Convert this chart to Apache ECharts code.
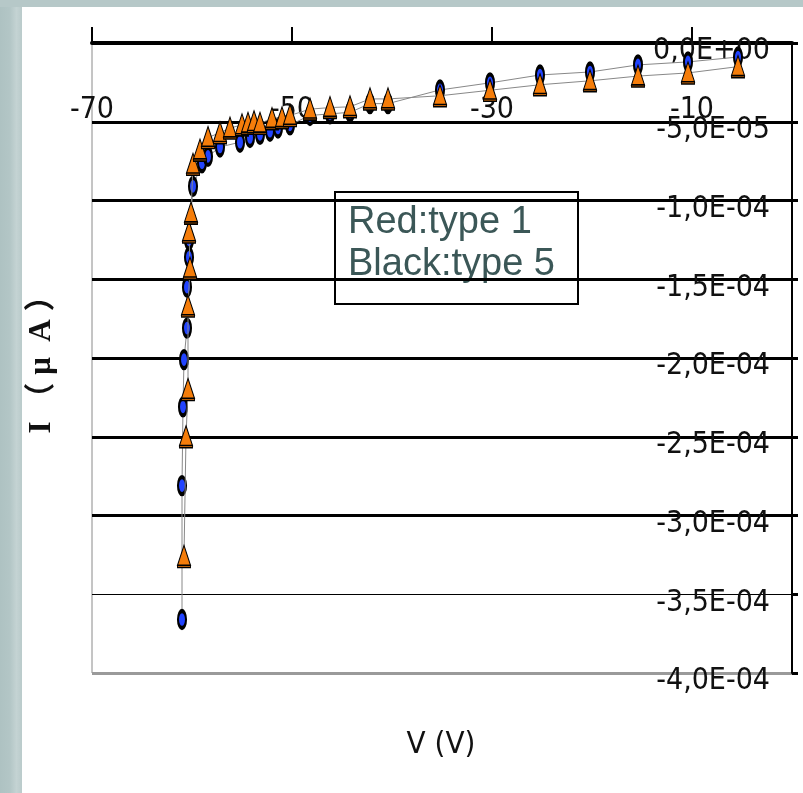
<!DOCTYPE html>
<html>
<head>
<meta charset="utf-8">
<script src="https://cdn.jsdelivr.net/npm/echarts@6/dist/echarts.min.js"></script>
<style>
  html, body { margin: 0; padding: 0; background: #fff; }
  #chart { width: 803px; height: 793px; }
</style>
</head>
<body>
<div id="chart"></div>
<script>
// 横轴刻度
var xTicks = [-70, -50, -30, -10];

// type 1 (橙色三角)
var type1V = [-60.8, -60.6, -60.4, -60.4, -60.2, -60.3, -60.1, -59.9, -59.2, -58.4, -57.2, -56.2, -55.0, -54.4, -53.8, -53.2, -52.0, -51.0, -50.2, -48.2, -46.2, -44.2, -42.2, -40.4, -35.2, -30.2, -25.2, -20.2, -15.4, -10.4, -5.4];
var type1I = [-3.26e-4, -2.50e-4, -2.20e-4, -1.67e-4, -1.43e-4, -1.20e-4, -1.08e-4, -7.7e-5, -6.8e-5, -6.0e-5, -5.7e-5, -5.4e-5, -5.2e-5, -5.1e-5, -5.0e-5, -5.1e-5, -4.8e-5, -4.75e-5, -4.6e-5, -4.2e-5, -4.1e-5, -4.05e-5, -3.55e-5, -3.55e-5, -3.35e-5, -3.0e-5, -2.65e-5, -2.4e-5, -2.1e-5, -1.9e-5, -1.5e-5];

// type 5 (蓝色圆点)
var type5V = [-61.0, -61.0, -60.9, -60.8, -60.5, -60.5, -60.3, -60.3, -59.9, -59.0, -58.4, -57.2, -55.2, -54.2, -53.2, -52.2, -51.4, -50.2, -48.2, -46.2, -44.2, -42.2, -40.4, -35.2, -30.2, -25.2, -20.2, -15.4, -10.4, -5.4];
var type5I = [-3.66e-4, -2.81e-4, -2.31e-4, -2.01e-4, -1.81e-4, -1.55e-4, -1.36e-4, -1.25e-4, -9.1e-5, -7.6e-5, -7.2e-5, -6.6e-5, -6.3e-5, -6.0e-5, -5.8e-5, -5.6e-5, -5.4e-5, -5.2e-5, -4.6e-5, -4.5e-5, -4.4e-5, -3.85e-5, -3.85e-5, -2.98e-5, -2.53e-5, -2.03e-5, -1.84e-5, -1.39e-5, -1.2e-5, -0.89e-5];

var narrow = "'Liberation Sans Narrow', 'DejaVu Sans Condensed', sans-serif";

function pairs(xs, ys) {
  return xs.map(function (x, i) { return [x, ys[i]]; });
}

// 0,0E+00 这种格式
function sciLabel(v) {
  if (Math.abs(v) < 1e-12) return '0,0E+00';
  var p = v.toExponential(1).split('e');
  var e = parseInt(p[1], 10);
  return p[0].replace('.', ',') + 'E' + (e < 0 ? '-' : '+') + String(Math.abs(e)).padStart(2, '0');
}

var chart = echarts.init(document.getElementById('chart'));

var option = {
  animation: false,
  backgroundColor: '#fff',
  grid: {
    left: 92, right: 11, top: 43, bottom: 120,
    show: true, borderColor: '#8a8a8a', borderWidth: 1
  },
  xAxis: {
    type: 'value',
    position: 'top',
    min: -70,
    max: 0,
    axisLine: { show: true, onZero: false, lineStyle: { color: '#000', width: 4 } },
    axisTick: { show: true, customValues: xTicks, length: 16, lineStyle: { color: '#000', width: 2 } },
    axisLabel: {
      customValues: xTicks, inside: true, margin: 52,
      fontFamily: narrow, fontSize: 30, color: '#111'
    },
    splitLine: { show: false }
  },
  yAxis: [
    {
      type: 'value',
      position: 'right',
      min: -4e-4,
      max: 0,
      interval: 5e-5,
      axisLine: { show: true, onZero: false, lineStyle: { color: '#000', width: 2 } },
      axisTick: { show: true, length: 6, lineStyle: { color: '#000', width: 3 } },
      axisLabel: {
        inside: true, margin: 22, formatter: sciLabel,
        fontFamily: narrow, fontSize: 30, color: '#111',
        verticalAlign: 'top', lineHeight: 17
      },
      splitLine: {
        show: true,
        lineStyle: {
          color: ['#9a9a9a', 'transparent', '#000', '#000', '#000', '#000', '#000', '#000', '#000'],
          width: 3
        }
      }
    },
    {
      // 只画 -3,5E-04 那条细线
      type: 'value',
      position: 'left',
      min: -4e-4,
      max: 0,
      interval: 5e-5,
      axisLine: { show: false },
      axisTick: { show: false },
      axisLabel: { show: false },
      splitLine: {
        show: true,
        lineStyle: {
          color: ['transparent', '#000', 'transparent', 'transparent', 'transparent', 'transparent', 'transparent', 'transparent', 'transparent'],
          width: 1
        }
      }
    }
  ],
  series: [
    {
      name: 'type 5',
      type: 'line',
      data: pairs(type5V, type5I),
      showAllSymbol: true,
      symbol: 'circle',
      symbolSize: [8, 17],
      itemStyle: { color: '#2244ff', borderColor: '#000', borderWidth: 3 },
      lineStyle: { color: '#888', width: 1 },
      z: 3
    },
    {
      name: 'type 1',
      type: 'line',
      data: pairs(type1V, type1I),
      showAllSymbol: true,
      symbol: 'path://M6,0L12,18L0,18Z M0,18H12V20H0Z',
      symbolSize: [13, 22],
      itemStyle: { color: '#f57d0a', borderColor: '#000', borderWidth: 1.2 },
      lineStyle: { color: '#888', width: 1 },
      z: 4
    }
  ],
  graphic: [
    {
      type: 'rect', z: -1,
      shape: { x: 0, y: 0, width: 22, height: 793 },
      style: {
        fill: {
          type: 'linear', x: 0, y: 0, x2: 1, y2: 0,
          colorStops: [
            { offset: 0, color: '#aec2c2' },
            { offset: 0.45, color: '#b3c6c6' },
            { offset: 0.75, color: '#c4d3d3' },
            { offset: 1, color: '#bacbcb' }
          ]
        }
      }
    },
    {
      type: 'rect', z: -1,
      shape: { x: 0, y: 0, width: 803, height: 7 },
      style: { fill: '#b6c8c8' }
    },
    {
      type: 'group', left: 334, top: 191, z: 100,
      children: [
        {
          type: 'rect',
          shape: { x: 0, y: 0, width: 243, height: 112 },
          style: { fill: '#fff', stroke: '#000', lineWidth: 2 }
        },
        {
          type: 'text', x: 13, y: 10,
          style: {
            text: 'Red:type 1\nBlack:type 5',
            font: "38px 'Liberation Sans', Arial, sans-serif",
            fill: '#3b5757',
            lineHeight: 42
          }
        }
      ]
    },
    {
      type: 'text', x: 42, y: 357, rotation: Math.PI / 2, z: 100,
      style: {
        text: 'I （ μ  A ）',
        font: "bold 31px 'Liberation Serif', 'Noto Sans CJK SC', serif",
        fill: '#111',
        textAlign: 'center',
        textVerticalAlign: 'middle'
      }
    },
    {
      type: 'text', x: 441, y: 745, z: 100,
      style: {
        text: 'V (V)',
        font: "31px " + narrow,
        fill: '#111',
        textAlign: 'center',
        textVerticalAlign: 'middle'
      }
    }
  ]
};

chart.setOption(option);
</script>
</body>
</html>
